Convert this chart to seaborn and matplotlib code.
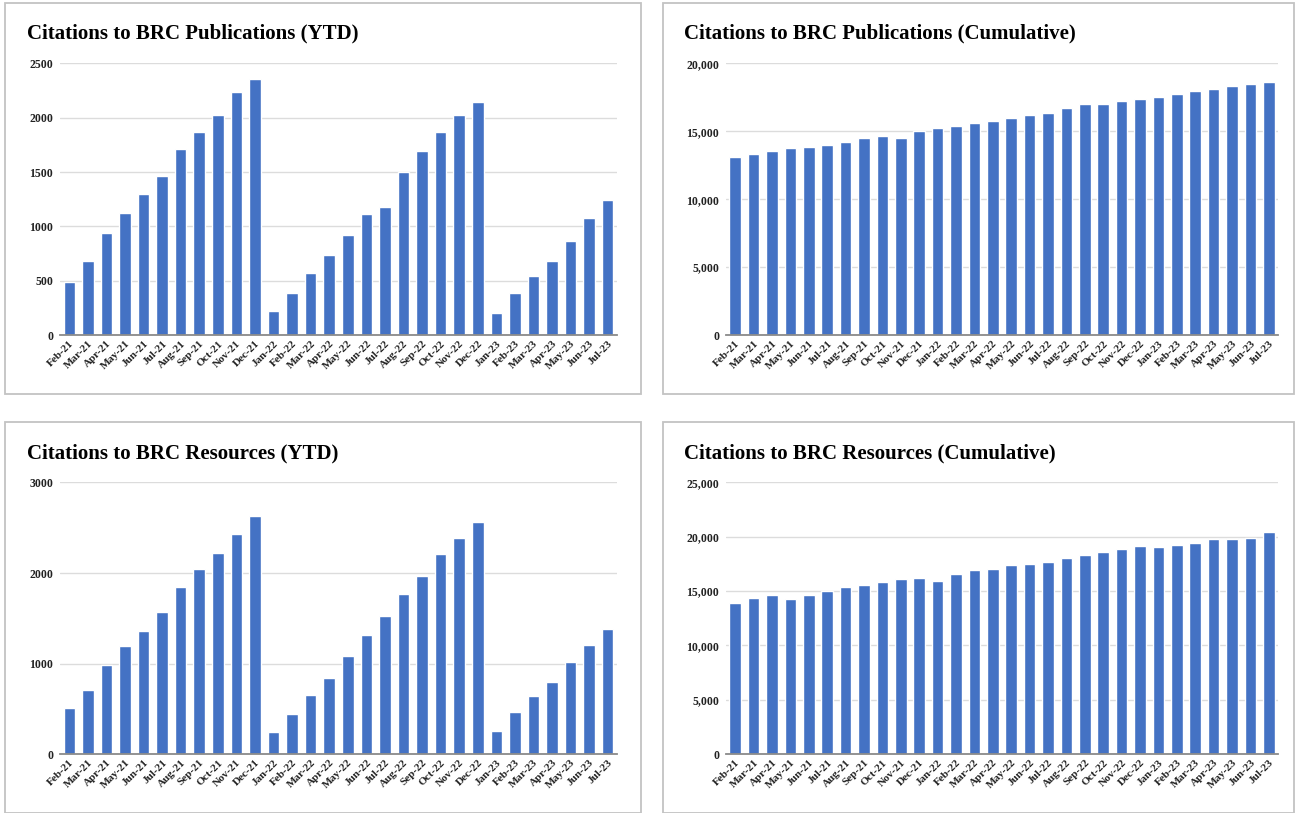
import pandas as pd
import seaborn as sns
import matplotlib.pyplot as plt
from matplotlib.patches import Rectangle
from matplotlib.ticker import FuncFormatter

# month labels shared by all four charts
months = ['Feb-21', 'Mar-21', 'Apr-21', 'May-21', 'Jun-21', 'Jul-21', 'Aug-21', 'Sep-21',
          'Oct-21', 'Nov-21', 'Dec-21', 'Jan-22', 'Feb-22', 'Mar-22', 'Apr-22', 'May-22',
          'Jun-22', 'Jul-22', 'Aug-22', 'Sep-22', 'Oct-22', 'Nov-22', 'Dec-22', 'Jan-23',
          'Feb-23', 'Mar-23', 'Apr-23', 'May-23', 'Jun-23', 'Jul-23']

pubs_ytd = [490, 680, 935, 1120, 1295, 1460, 1715, 1870, 2030, 2235, 2355, 220, 385, 570, 735,
            920, 1110, 1175, 1505, 1695, 1865, 2030, 2150, 200, 385, 540, 680, 870, 1075, 1240]
pubs_cum = [13100, 13320, 13540, 13780, 13880, 14020, 14240, 14490, 14630, 14490, 15000, 15270,
            15410, 15630, 15780, 16020, 16240, 16390, 16730, 17020, 17020, 17270, 17410, 17560,
            17780, 17950, 18100, 18340, 18490, 18660]
res_ytd = [505, 705, 980, 1190, 1355, 1565, 1850, 2045, 2220, 2435, 2630, 245, 440, 650, 840,
           1080, 1310, 1520, 1765, 1965, 2210, 2385, 2560, 255, 465, 640, 795, 1015, 1205, 1380]
res_cum = [13950, 14350, 14650, 14250, 14650, 14970, 15370, 15580, 15850, 16130, 16220, 15950,
           16620, 16920, 17070, 17410, 17500, 17680, 18080, 18350, 18570, 18840, 19150, 19060,
           19240, 19420, 19820, 19820, 19910, 20400]

titles = ['Citations to BRC Publications (YTD)', 'Citations to BRC Publications (Cumulative)',
          'Citations to BRC Resources (YTD)', 'Citations to BRC Resources (Cumulative)']

sns.set_theme(style='white')
plt.rcParams['font.family'] = ['Liberation Serif', 'DejaVu Serif']
plt.rcParams['font.weight'] = 'bold'

W, H = 1296, 813
fig = plt.figure(figsize=(W / 100, H / 100), dpi=100)
fig.patch.set_facecolor('white')

BLUE = '#4472C4'

# (values, ymax, step, comma, box px, axes px, title px)
panels = [
    (pubs_ytd, 2500, 500, False, (5, 3, 641, 394), (60, 63.5, 617, 335), (27, 33)),
    (pubs_cum, 20000, 5000, True, (663, 3, 1294, 394), (726, 63.5, 1278, 335), (684, 33)),
    (res_ytd, 3000, 1000, False, (5, 422, 641, 813), (60, 482.5, 617, 754), (27, 453)),
    (res_cum, 25000, 5000, True, (663, 422, 1294, 813), (726, 482.5, 1278, 754), (684, 453)),
]

for title, (vals, ymax, step, comma, box, axr, tpos) in zip(titles, panels):
    bx0, by0, bx1, by1 = box
    fig.add_artist(Rectangle((bx0 / W, 1 - by1 / H), (bx1 - bx0) / W, (by1 - by0) / H,
                             transform=fig.transFigure, fill=False,
                             edgecolor='#c3c3c3', linewidth=1.3))
    fig.text(tpos[0] / W, 1 - tpos[1] / H, title, ha='left', va='center',
             fontsize=15, fontweight='bold', color='black')

    x0, y0, x1, y1 = axr
    ax = fig.add_axes([x0 / W, 1 - y1 / H, (x1 - x0) / W, (y1 - y0) / H])
    df = pd.DataFrame({'month': months, 'value': vals})
    sns.barplot(data=df, x='month', y='value', color=BLUE, saturation=1, width=0.62, ax=ax)

    ax.set_xlim(-0.5, len(months) - 0.5)
    ax.set_ylim(0, ymax)
    ax.set_yticks(range(0, ymax + 1, step))
    if comma:
        ax.yaxis.set_major_formatter(FuncFormatter(lambda v, p: f'{int(v):,}'))
    else:
        ax.yaxis.set_major_formatter(FuncFormatter(lambda v, p: f'{int(v)}'))
    ax.yaxis.grid(True, color='#dcdcdc', linewidth=1)
    ax.set_axisbelow(True)
    for s in ['top', 'right', 'left']:
        ax.spines[s].set_visible(False)
    ax.spines['bottom'].set_color('#8a8a8a')
    ax.spines['bottom'].set_linewidth(1.3)
    ax.set_xlabel('')
    ax.set_ylabel('')
    ax.tick_params(axis='y', length=0, pad=5, labelsize=8.5)
    ax.tick_params(axis='x', length=0, pad=3, labelsize=8)
    for lab in ax.get_yticklabels():
        lab.set_fontweight('bold')
        lab.set_color('#222222')
    for lab in ax.get_xticklabels():
        lab.set_rotation(45)
        lab.set_ha('right')
        lab.set_rotation_mode('anchor')
        lab.set_fontweight('bold')
        lab.set_color('#222222')

fig.savefig('out.png', dpi=100)
